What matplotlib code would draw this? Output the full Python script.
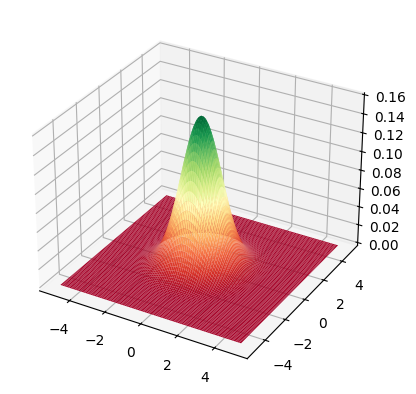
import numpy as np
import matplotlib
matplotlib.use("Agg")
import matplotlib.pyplot as plt

# The reference is a smooth function surface with too many cells to read one by
# one, so its height is computed as a Gaussian. Its parameters are estimated from
# the picture: peak about 0.159 at the origin, spread about 1, domain -5 to 5.
x_limits = [-5.0, 5.0]
y_limits = [-5.0, 5.0]
grid_size = 100
peak_height = 0.159
spread = 1.0
xy_ticks = [-4, -2, 0, 2, 4]
z_ticks = [0.00, 0.02, 0.04, 0.06, 0.08, 0.10, 0.12, 0.14, 0.16]

x = np.linspace(*x_limits, grid_size)
y = np.linspace(*y_limits, grid_size)
X, Y = np.meshgrid(x, y)
Z = peak_height * np.exp(-(X**2 + Y**2) / (2 * spread**2))

fig = plt.figure(figsize=(4.16, 3.94), dpi=100)
ax = fig.add_axes([11.7 / 416, 12.0 / 394, 369.6 / 416, 369.6 / 394], projection="3d")
ax.plot_surface(X, Y, Z, rstride=1, cstride=1, cmap="RdYlGn")
ax.set_xticks(xy_ticks)
ax.set_yticks(xy_ticks)
ax.set_zticks(z_ticks)
fig.savefig("out.png", dpi=100)
